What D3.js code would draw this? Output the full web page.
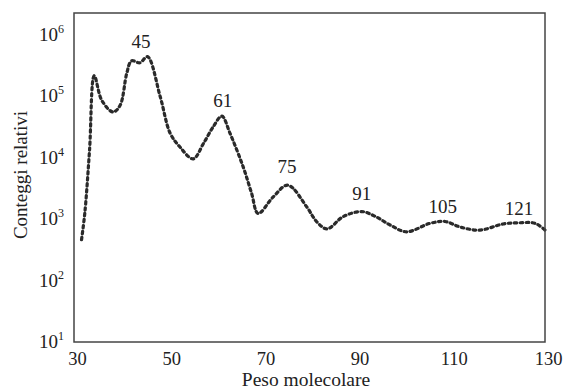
<!DOCTYPE html>
<html>
<head>
<meta charset="utf-8">
<script src="https://cdn.jsdelivr.net/npm/d3@7"></script>
<style>
  body { margin: 0; background: #fff; }
  text { font-family: "Liberation Serif", "DejaVu Serif", serif; fill: #222; }
</style>
</head>
<body>
<svg width="569" height="392"></svg>
<script>
const width = 569
const height = 392
const marginTop = 13
const marginBottom = 50
const marginLeft = 74
const marginRight = 24

// peso molecolare (m/z) e conteggi relativi
const masses = [31.6, 32.3, 33.3, 34.3, 35.9, 38.3, 39.8, 41.2, 42.2, 44.0, 45.6, 48.3, 50.4, 52.5, 55.3, 57.5, 59.6, 61.4, 63.1, 65.9, 67.7, 69.1, 72.3, 75.4, 79.4, 81.5, 83.7, 87.2, 91.1, 94.0, 97.1, 100.6, 105.6, 108.8, 112.0, 116.2, 121.1, 124.7, 127.9, 130.0]
const counts = [460, 1260, 13200, 214000, 85000, 55000, 71000, 234000, 372000, 347000, 437000, 98000, 25000, 14800, 9500, 17000, 32000, 47000, 25000, 7100, 2630, 1230, 2290, 3550, 1580, 910, 690, 1100, 1320, 1100, 800, 620, 850, 910, 740, 660, 830, 870, 850, 660]

const peakLabels = ["45", "61", "75", "91", "105", "121"]
const peakMasses = [44.2, 61.6, 75.2, 91.1, 108.3, 124.5]
const peakCounts = [600000, 66000, 5600, 2040, 1260, 1170]

const xTicks = [30, 50, 70, 90, 110, 130]
const yTicks = [10, 100, 1000, 10000, 100000, 1000000]

const svg = d3.select("svg")

const xScale = d3.scaleLinear()
    .domain([30, 130])
    .range([marginLeft, width - marginRight])

const yScale = d3.scaleLog()
    .domain([10, Math.pow(10, 6.35)])
    .range([height - marginBottom, marginTop])

const data = masses.map((m, i) => ({ m: m, c: counts[i] }))

const line = d3.line()
    .x(d => xScale(d.m))
    .y(d => yScale(d.c))
    .curve(d3.curveCatmullRom.alpha(0.5))

svg.append("path")
    .datum(data)
    .attr("d", line)
    .attr("fill", "none")
    .attr("stroke", "#2a2a2a")
    .attr("stroke-width", 3.2)
    .attr("stroke-dasharray", "2.5,3.5")
    .attr("stroke-linecap", "round")

// cornice
svg.append("rect")
    .attr("x", marginLeft)
    .attr("y", marginTop)
    .attr("width", width - marginLeft - marginRight)
    .attr("height", height - marginTop - marginBottom)
    .attr("fill", "none")
    .attr("stroke", "#444")
    .attr("stroke-width", 1.5)

const xAxis = d3.axisBottom(xScale).tickValues(xTicks).tickSize(0).tickPadding(10).tickFormat(d => d)
svg.append("g")
    .attr("transform", `translate(0, ${height - marginBottom})`)
    .call(xAxis)
    .call(g => g.select(".domain").remove())
    .call(g => g.selectAll("text")
        .attr("font-size", 18.5)
        .attr("dx", 3)
        .style("font-family", "Liberation Serif, serif"))

const yAxis = d3.axisLeft(yScale).tickValues(yTicks).tickSize(0).tickPadding(10).tickFormat(() => "")
svg.append("g")
    .attr("transform", `translate(${marginLeft}, 0)`)
    .call(yAxis)
    .call(g => g.select(".domain").remove())
    .call(g => g.selectAll("text")
        .attr("font-size", 19)
        .attr("dy", "0.3em")
        .style("font-family", "Liberation Serif, serif")
        .each(function(d) {
            const t = d3.select(this)
            t.text("10")
            t.append("tspan")
                .attr("font-size", 12)
                .attr("dy", "-0.65em")
                .text(Math.round(Math.log10(d)))
        }))

svg.append("g")
    .selectAll("text")
    .data(peakLabels)
    .enter()
    .append("text")
    .attr("x", (d, i) => xScale(peakMasses[i]))
    .attr("y", (d, i) => yScale(peakCounts[i]))
    .attr("text-anchor", "middle")
    .attr("font-size", 19)
    .text(d => d)

svg.append("text")
    .attr("x", 306)
    .attr("y", 386)
    .attr("text-anchor", "middle")
    .attr("font-size", 19.5)
    .text("Peso molecolare")

svg.append("text")
    .attr("transform", `translate(27, 175) rotate(-90)`)
    .attr("text-anchor", "middle")
    .attr("font-size", 19)
    .text("Conteggi relativi")
</script>
</body>
</html>
